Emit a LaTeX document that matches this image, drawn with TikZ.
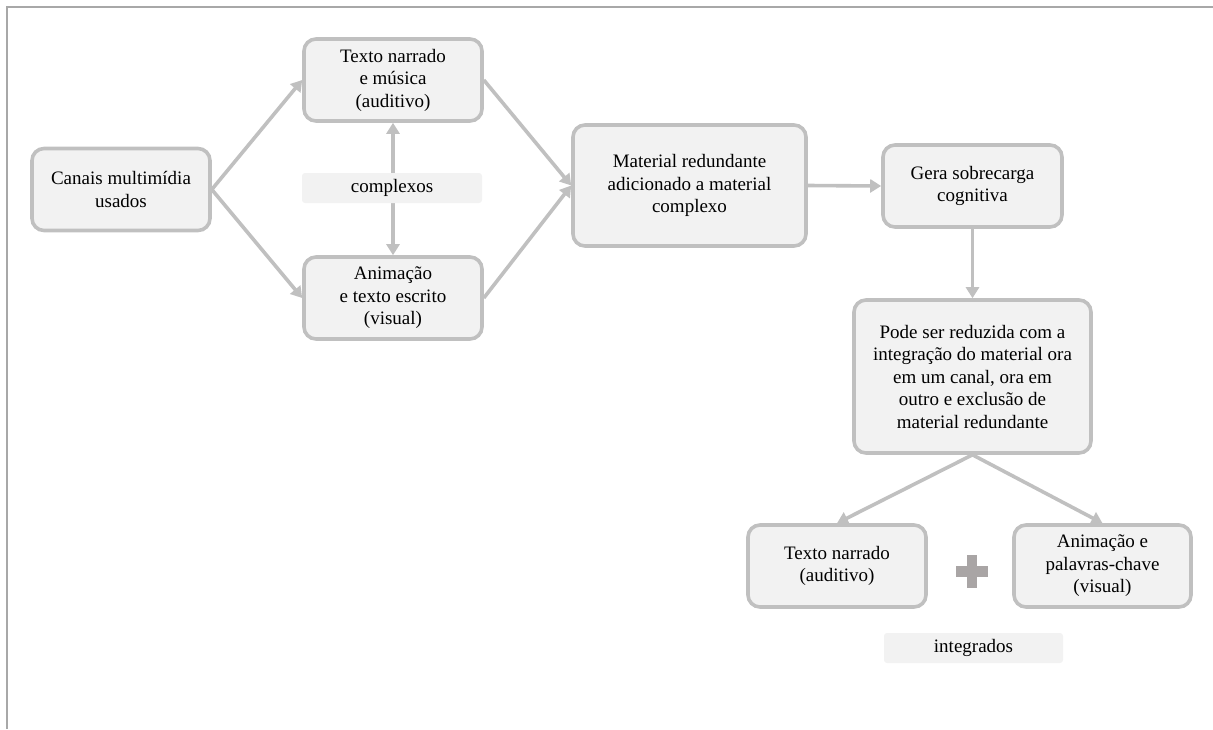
\documentclass[tikz,border=0pt]{standalone}
\usepackage{fontspec}
\setmainfont{Liberation Serif}
\usetikzlibrary{arrows.meta}
\definecolor{boxfill}{HTML}{F2F2F2}
\definecolor{boxline}{HTML}{C0C0C0}
\definecolor{plusgray}{HTML}{A9A5A5}
\definecolor{framegray}{HTML}{A8A8A8}
\begin{document}
\begin{tikzpicture}[x=1pt,y=-1pt,
  box/.style={draw=boxline, line width=3.6pt, fill=boxfill, rounded corners=12pt,
    align=center, inner sep=0pt, font=\fontsize{19}{22.5}\selectfont},
  tag/.style={fill=boxfill, rounded corners=3pt, align=center, inner sep=0pt,
    font=\fontsize{19}{22.5}\selectfont},
  tip/.style={Triangle[length=11pt,width=13pt]},
  link/.style={draw=boxline, line width=3.6pt, -{Triangle[length=11pt,width=13pt]}},
  both/.style={draw=boxline, line width=3.6pt, {Triangle[length=11pt,width=13pt]}-{Triangle[length=11pt,width=13pt]}},
]
\useasboundingbox (0,0) rectangle (1213,729);
% page frame (top and left edges)
\draw[framegray, line width=2pt] (7,729) -- (7,7) -- (1213,7);

% nodes
\node[box, minimum width=178pt, minimum height=82pt] (canais) at (121,189.5) {Canais multimídia\\usados};
\node[box, minimum width=178pt, minimum height=82pt] (audio) at (393,80) {Texto narrado\\e música\\(auditivo)};
\node[box, minimum width=178pt, minimum height=82pt] (anim) at (393,298) {Animação\\e texto escrito\\(visual)};
\node[box, minimum width=233pt, minimum height=121pt] (mat) at (689.5,185.5) {Material redundante\\adicionado a material\\complexo};
\node[box, minimum width=179pt, minimum height=82pt] (gera) at (972.5,186) {Gera sobrecarga\\cognitiva};
\node[box, minimum width=237pt, minimum height=153pt] (pode) at (972.5,376.5) {Pode ser reduzida com a\\integração do material ora\\em um canal, ora em\\outro e exclusão de\\material redundante};
\node[box, minimum width=178pt, minimum height=82pt] (narr) at (837,566) {Texto narrado\\(auditivo)};
\node[box, minimum width=177pt, minimum height=82pt] (pal) at (1102.5,566) {Animação e\\palavras-chave\\(visual)};

% double link between the two channels, label on top
\draw[both] (audio.south) -- (anim.north);
\node[tag, minimum width=180pt, minimum height=30pt] (complexos) at (392,188) {complexos};

% connectors
\draw[link] (canais.east) -- (audio.west);
\draw[link] (canais.east) -- (anim.west);
\draw[link] (audio.east) -- (mat.west);
\draw[link] (anim.east) -- (mat.west);
\draw[link] (mat.east) -- (gera.west);
\draw[link] (gera.south) -- (pode.north);
\draw[link] (pode.south) -- (narr.north);
\draw[link] (pode.south) -- (pal.north);

% plus sign between the integrated channels
\node[fill=plusgray, minimum width=32pt, minimum height=11pt, inner sep=0pt] (plush) at (972,571.5) {};
\node[fill=plusgray, minimum width=10.5pt, minimum height=33pt, inner sep=0pt] (plusv) at (972,571.5) {};

\node[tag, minimum width=179pt, minimum height=30pt] (integrados) at (973.5,648) {integrados};
\end{tikzpicture}
\end{document}
